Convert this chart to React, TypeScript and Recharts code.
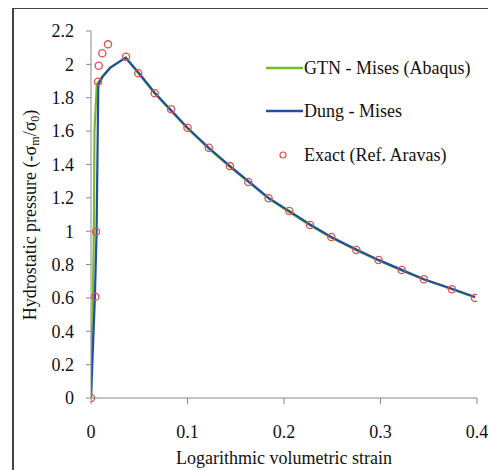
import React from 'react';
import { ComposedChart, Line, Scatter, XAxis, YAxis } from 'recharts';

const gtnX = [0, 0.002, 0.003, 0.0036, 0.006, 0.012, 0.02, 0.036, 0.05, 0.066, 0.083, 0.1, 0.122, 0.144, 0.163, 0.184, 0.2055, 0.227, 0.249, 0.275, 0.298, 0.322, 0.345, 0.374, 0.398];
const gtnY = [0, 0.6, 1.0, 1.6, 1.88, 1.93, 1.98, 2.04, 1.94, 1.825, 1.72, 1.615, 1.495, 1.385, 1.295, 1.195, 1.115, 1.035, 0.96, 0.885, 0.824, 0.765, 0.71, 0.652, 0.602];

const dungX = [0, 0.004, 0.0058, 0.0068, 0.0076, 0.012, 0.02, 0.036, 0.05, 0.066, 0.083, 0.1, 0.122, 0.144, 0.163, 0.184, 0.2055, 0.227, 0.249, 0.275, 0.298, 0.322, 0.345, 0.374, 0.398];
const dungY = [0, 0.6, 1.0, 1.5, 1.88, 1.925, 1.98, 2.04, 1.945, 1.83, 1.725, 1.62, 1.5, 1.39, 1.3, 1.2, 1.12, 1.04, 0.965, 0.89, 0.828, 0.768, 0.712, 0.655, 0.605];

const exactX = [0, 0.0045, 0.0052, 0.0073, 0.008, 0.0117, 0.0176, 0.0363, 0.049, 0.066, 0.083, 0.1, 0.122, 0.144, 0.163, 0.184, 0.2055, 0.227, 0.249, 0.275, 0.298, 0.322, 0.345, 0.374, 0.398];
const exactY = [0, 0.607, 0.997, 1.896, 1.992, 2.067, 2.12, 2.046, 1.947, 1.827, 1.731, 1.62, 1.5, 1.39, 1.295, 1.197, 1.121, 1.037, 0.965, 0.887, 0.827, 0.767, 0.712, 0.652, 0.6];

const xTicks = [0, 0.1, 0.2, 0.3, 0.4];
const yTicks = [0, 0.2, 0.4, 0.6, 0.8, 1, 1.2, 1.4, 1.6, 1.8, 2, 2.2];

const seriesNames = ['GTN - Mises (Abaqus)', 'Dung - Mises', 'Exact (Ref. Aravas)'];
const GREEN = '#78b82a';
const BLUE = '#1f4fa5';
const RED = '#d9534f';
const FONT = '"Liberation Serif", "Times New Roman", serif';
const FS = 18;

const gtnData = gtnX.map((x, i) => ({ x, y: gtnY[i] }));
const dungData = dungX.map((x, i) => ({ x, y: dungY[i] }));
const exactData = exactX.map((x, i) => ({ x, y: exactY[i] }));

const Circle = (props: any) => {
  const { cx, cy } = props;
  if (cx == null || cy == null) return null;
  return <circle cx={cx} cy={cy} r={3.6} fill="none" stroke={RED} strokeWidth={1.3} />;
};

// y label + legend drawn as SVG (chart-local coords; svg origin at page 8,8)
const Overlay = () => (
  <g>
    <text
      transform="translate(28, 207) rotate(-90)"
      textAnchor="middle"
      fontFamily={FONT}
      fontSize={FS}
      fill="#111"
    >
      Hydrostatic pressure (-σ
      <tspan fontSize={12} dy={3}>m</tspan>
      <tspan dy={-3}>/σ</tspan>
      <tspan fontSize={12} dy={3}>0</tspan>
      <tspan dy={-3}>)</tspan>
    </text>
    <g fontFamily={FONT} fontSize={FS} fill="#111">
      <line x1={258} x2={295} y1={60} y2={60} stroke={GREEN} strokeWidth={2.5} />
      <text x={296} y={66}>{seriesNames[0]}</text>
      <line x1={258} x2={295} y1={103} y2={103} stroke={BLUE} strokeWidth={2.5} />
      <text x={296} y={109}>{seriesNames[1]}</text>
      <circle cx={275} cy={147} r={3} fill="none" stroke={RED} strokeWidth={1.2} />
      <text x={296} y={153}>{seriesNames[2]}</text>
    </g>
  </g>
);

export default function App() {
  return (
    <div style={{ position: 'relative', width: 488, height: 462 }}>
      <ComposedChart
        width={488}
        height={462}
        margin={{ top: 23, right: 19, left: 43, bottom: 32 }}
      >
        <XAxis
          type="number"
          dataKey="x"
          domain={[0, 0.4]}
          ticks={xTicks}
          interval={0}
          tickFormatter={(v: number) => String(v)}
          height={40}
          stroke="#888"
          tickSize={6}
          tickMargin={21}
          tick={{ fill: '#111', fontFamily: FONT, fontSize: FS }}
          allowDataOverflow
          label={{
            value: 'Logarithmic volumetric strain',
            position: 'insideBottom',
            offset: -26,
            fill: '#111',
            fontFamily: FONT,
            fontSize: FS,
          }}
        />
        <YAxis
          type="number"
          dataKey="y"
          domain={[0, 2.2]}
          ticks={yTicks}
          interval={0}
          tickFormatter={(v: number) => String(v)}
          width={40}
          stroke="#888"
          tickSize={5}
          tickMargin={12}
          tick={{ fill: '#111', fontFamily: FONT, fontSize: FS }}
          label={{ content: () => <Overlay /> }}
        />
        <Line
          data={gtnData}
          dataKey="y"
          name={seriesNames[0]}
          stroke={GREEN}
          strokeWidth={2.2}
          dot={false}
          type="linear"
          isAnimationActive={false}
        />
        <Line
          data={dungData}
          dataKey="y"
          name={seriesNames[1]}
          stroke={BLUE}
          strokeWidth={2.2}
          dot={false}
          type="linear"
          isAnimationActive={false}
        />
        <Scatter
          data={exactData}
          dataKey="y"
          name={seriesNames[2]}
          shape={<Circle />}
          isAnimationActive={false}
        />
      </ComposedChart>
      <div
        style={{
          position: 'absolute',
          left: 4,
          top: -1,
          right: -20,
          bottom: -20,
          borderTop: '2px solid #444',
          borderLeft: '2px solid #444',
          pointerEvents: 'none',
        }}
      />
    </div>
  );
}
